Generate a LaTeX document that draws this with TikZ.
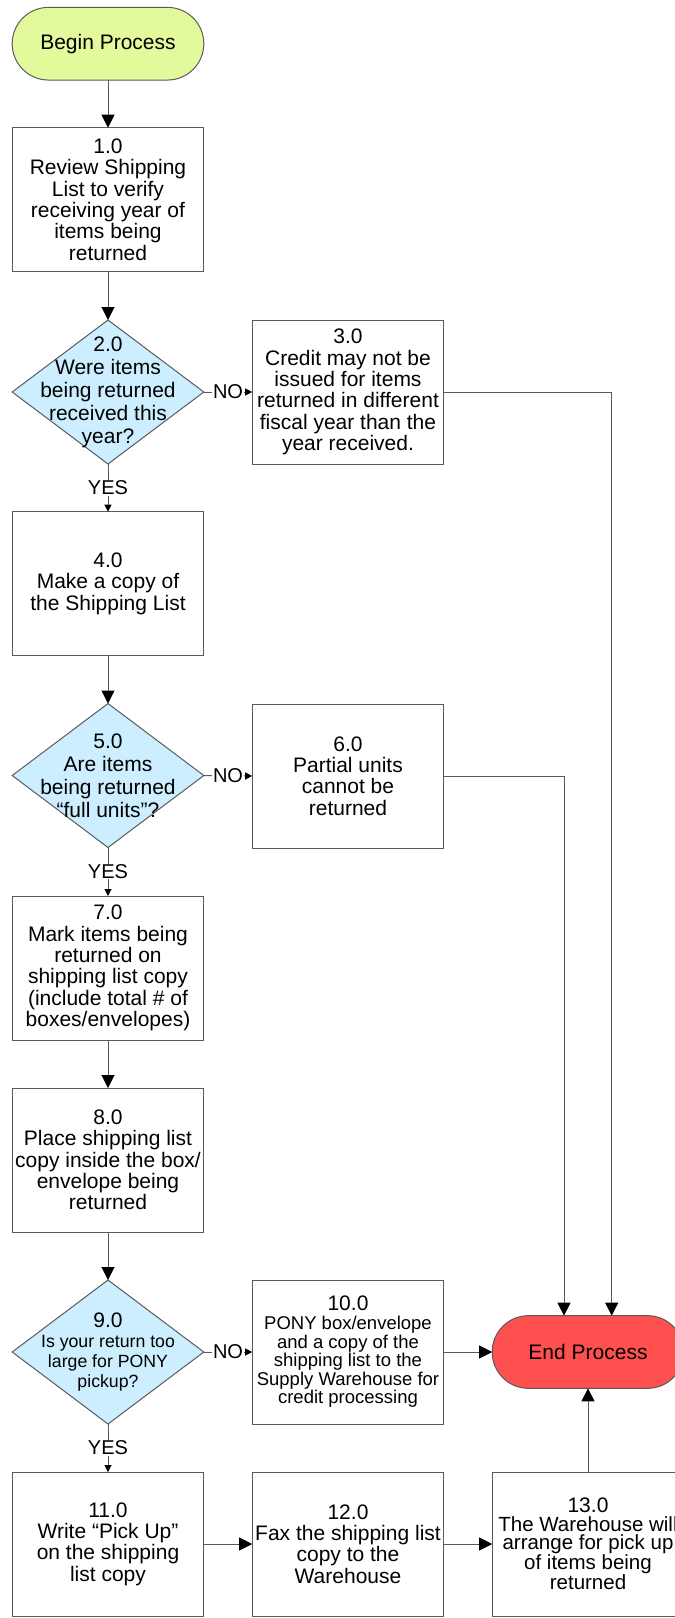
\documentclass[tikz,border=0pt]{standalone}
\usepackage{fontspec}
\setmainfont{Liberation Sans}
\usetikzlibrary{shapes.geometric,arrows.meta}
\definecolor{lineg}{HTML}{5A5A5A}
\definecolor{beginc}{HTML}{E2FA9C}
\definecolor{endc}{HTML}{FF5050}
\definecolor{decc}{HTML}{CCEEFF}
\begin{document}
\begin{tikzpicture}[x=1pt,y=-1pt,
  every node/.style={outer sep=0pt},
  term/.style={draw=lineg, line width=1pt, rounded corners=36.3pt, minimum width=191.6pt, minimum height=72.7pt, inner sep=0pt, font=\fontsize{21}{24}\selectfont},
  procbox/.style={draw=lineg, line width=1pt, fill=white, minimum width=191.6pt, minimum height=144pt, inner sep=0pt, align=center, font=\fontsize{21}{21.3}\selectfont},
  decision/.style={draw=lineg, line width=1pt, fill=decc, diamond, minimum width=191.6pt, minimum height=144pt, inner sep=0pt},
  dtext/.style={inner sep=0pt, align=center, font=\fontsize{21}{23}\selectfont},
  conn/.style={draw=lineg, line width=1pt, -{Triangle[length=13pt,width=13pt,color=black]}},
  sconn/.style={draw=lineg, line width=1pt, -{Triangle[length=7pt,width=7pt,color=black]}},
  lbl/.style={fill=white, inner sep=0.6pt, font=\fontsize{20}{22}\selectfont}
]
\useasboundingbox (0,0) rectangle (675,1618);
\clip (0,0) rectangle (675,1618);
\fill[white] (0,0) rectangle (675,1618);

% nodes
\node[term, fill=beginc] (begin) at (108,43.7) {Begin Process};
\node[procbox] (b1) at (108,199.7) {1.0\\Review Shipping\\List to verify\\receiving year of\\items being\\returned};
\node[decision] (d2) at (108,392) {};
\node[dtext] (d2t) at (d2.center) {2.0\\Were items\\being returned\\received this\\year?};
\node[procbox] (b3) at (348,392) {3.0\\Credit may not be\\issued for items\\returned in different\\fiscal year than the\\year received.};
\node[procbox] (b4) at (108,583.7) {4.0\\Make a copy of\\the Shipping List};
\node[decision] (d5) at (108,775.5) {};
\node[dtext] (d5t) at (d5.center) {5.0\\Are items\\being returned\\“full units”?};
\node[procbox] (b6) at (348,776) {6.0\\Partial units\\cannot be\\returned};
\node[procbox] (b7) at (108,968) {7.0\\Mark items being\\returned on\\shipping list copy\\(include total \# of\\boxes/envelopes)};
\node[procbox] (b8) at (108,1160) {8.0\\Place shipping list\\copy inside the box/\\envelope being\\returned};
\node[decision] (d9) at (108,1352) {};
\node[dtext, font=\fontsize{17.7}{20}\selectfont] (d9t) at (d9.center) {{\fontsize{21}{21}\selectfont 9.0}\\Is your return too\\large for PONY\\pickup?};
\node[procbox, font=\fontsize{18.5}{18.6}\selectfont] (b10) at (348,1352) {{\fontsize{21}{21}\selectfont 10.0}\\PONY box/envelope\\and a copy of the\\shipping list to the\\Supply Warehouse for\\credit processing};
\node[term, fill=endc] (endn) at (588,1352) {End Process};
\node[procbox] (b11) at (108,1544) {11.0\\Write “Pick Up”\\on the shipping\\list copy};
\node[procbox] (b12) at (348,1544) {12.0\\Fax the shipping list\\copy to the\\Warehouse};
\node[procbox, font=\fontsize{20.5}{18.6}\selectfont] (b13) at (588,1544) {{\fontsize{21}{21}\selectfont 13.0}\\The Warehouse will\\arrange for pick up\\of items being\\returned};

% connectors
\draw[conn] (begin) -- (b1);
\draw[conn] (b1) -- (d2);
\draw[sconn] (d2.east) -- node[lbl]{NO} (b3.west);
\draw[sconn] (d2.south) -- node[lbl]{YES} (b4.north);
\draw[conn] (b3.east) -| ([xshift=23.7pt]endn.north);
\draw[conn] (b4) -- (d5);
\draw[sconn] (d5.east) -- node[lbl]{NO} (b6.west);
\draw[conn] (b6.east) -| ([xshift=-24pt]endn.north);
\draw[sconn] (d5.south) -- node[lbl]{YES} (b7.north);
\draw[conn] (b7) -- (b8);
\draw[conn] (b8) -- (d9);
\draw[sconn] (d9.east) -- node[lbl]{NO} (b10.west);
\draw[conn] (b10.east) -- (endn.west);
\draw[sconn] (d9.south) -- node[lbl]{YES} (b11.north);
\draw[conn] (b11) -- (b12);
\draw[conn] (b12) -- (b13);
\draw[conn] (b13) -- (endn);
\end{tikzpicture}
\end{document}
